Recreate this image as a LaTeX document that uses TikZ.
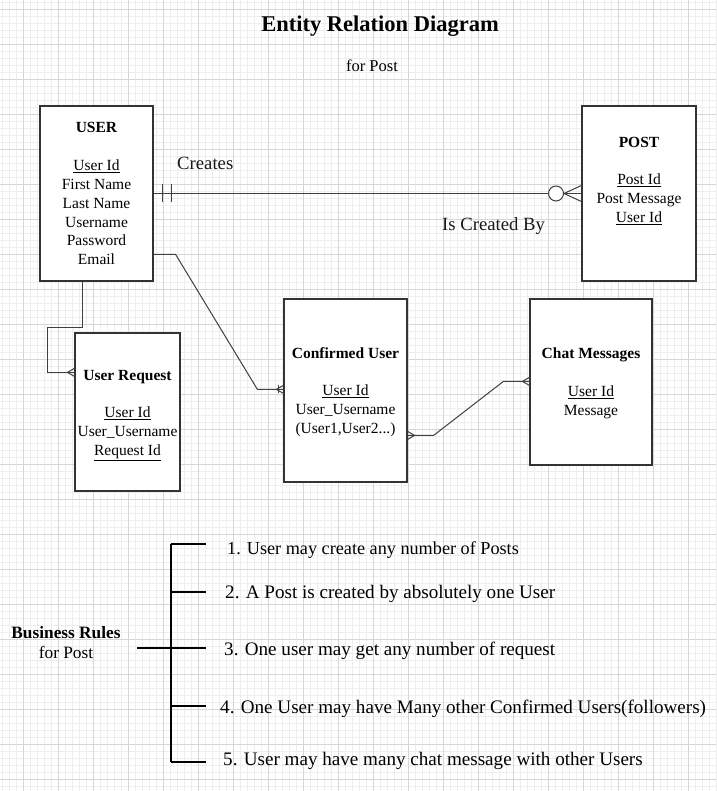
\documentclass[tikz,border=0pt]{standalone}
\usepackage{fontspec}
\setmainfont{Liberation Serif}
\usetikzlibrary{calc}
\definecolor{gminor}{HTML}{EEEEEE}
\definecolor{gmajor}{HTML}{D6D6D6}
\definecolor{boxc}{HTML}{333333}
\definecolor{connc}{HTML}{404040}
\tikzset{
  entity/.style={draw=boxc, line width=1.2pt, fill=white, inner sep=0pt, rectangle},
  etext/.style={align=center, inner sep=0pt, font=\fontsize{15.5}{18.85}\selectfont},
  conn/.style={draw=connc, line width=1pt},
  lbl/.style={inner sep=0pt, font=\fontsize{18.7}{22}\selectfont, text=black!90},
  rtext/.style={inner sep=0pt, font=\fontsize{18.2}{22}\selectfont},
  rtextb/.style={inner sep=0pt, font=\fontsize{19.1}{23}\selectfont},
  rulebar/.style={draw=black, line width=2pt},
}
\begin{document}
\begin{tikzpicture}[x=1pt,y=-1pt]
\useasboundingbox (0,0) rectangle (716,791);
\fill[white] (0,0) rectangle (716,791);
% grid
\foreach \i in {0,...,102} \draw[gminor, line width=0.8pt] ({2+7*\i},0) -- ({2+7*\i},791);
\foreach \j in {0,...,112} \draw[gminor, line width=0.8pt] (0,{2+7*\j}) -- (716,{2+7*\j});
\foreach \i in {0,...,19} \draw[gmajor, line width=0.9pt] ({23+35*\i},0) -- ({23+35*\i},791);
\foreach \j in {0,...,22} \draw[gmajor, line width=0.9pt] (0,{9+35*\j}) -- (716,{9+35*\j});

% titles
\node[anchor=base, inner sep=0pt, font=\bfseries\fontsize{22.5}{27}\selectfont] (title) at (380,32) {Entity Relation Diagram};
\node[anchor=base, inner sep=0pt, font=\fontsize{16.5}{20}\selectfont] (sub) at (372,72) {for Post};

% entities
\node[entity, minimum width=113, minimum height=175] (user) at (96.5,193.5) {};
\node[entity, minimum width=114, minimum height=175] (post) at (639,193.5) {};
\node[entity, minimum width=123, minimum height=183] (cu) at (345.5,390.5) {};
\node[entity, minimum width=105, minimum height=158] (ur) at (127.5,412) {};
\node[entity, minimum width=122, minimum height=166] (chat) at (591,382) {};

\node[etext] (usert) at (96.5,195) {\strut\textbf{USER}\\\mbox{}\\\underline{User Id}\\First Name\\Last Name\\Username\\Password\\Email\strut};
\node[etext] (postt) at (639,181) {\strut\textbf{POST}\\\mbox{}\\\underline{Post Id}\\Post Message\\\underline{User Id}\strut};
\node[etext] (cut) at (345.5,392) {\strut\textbf{Confirmed User}\\\mbox{}\\\underline{User Id}\\User\_Username\\(User1,User2...)\strut};
\node[etext] (urt) at (127.5,414) {\strut\textbf{User Request}\\\mbox{}\\\underline{User Id}\\User\_Username\\\underline{Request Id}\strut};
\node[etext] (chatt) at (591,383.5) {\strut\textbf{Chat Messages}\\\mbox{}\\\underline{User Id}\\Message\strut};

% USER -- POST
\node[circle, draw=connc, line width=1pt, fill=white, minimum size=15, inner sep=0pt] (circ) at (556,193.5) {};
\draw[conn] (user.east) -- (circ.west);
\draw[conn] (circ.east) -- (post.west);
\draw[conn] ($(post.west)+(0,-8)$) -- (circ.east) -- ($(post.west)+(0,8)$);
\draw[conn] ($(user.east)+(9,-9)$) -- ($(user.east)+(9,9)$);
\draw[conn] ($(user.east)+(18,-9)$) -- ($(user.east)+(18,9)$);
\node[lbl, anchor=base west] (creates) at (177,170) {Creates};
\node[lbl, anchor=base west] (iscb) at (442,231) {Is Created By};

% USER -- Confirmed User
\draw[conn] ($(user.north east)+(0,149)$) -- ++(22,0) -- ($(cu.north west)+(-26,91)$) -- ($(cu.north west)+(0,91)$);
\draw[conn] ($(cu.north west)+(0,87)$) -- ($(cu.north west)+(-7,91)$) -- ($(cu.north west)+(0,95)$);
\draw[conn] ($(cu.north west)+(-5,87)$) -- ($(cu.north west)+(-5,95)$);

% USER -- User Request
\draw[conn] ($(user.south west)+(43,0)$) -- ++(0,46) -- ++(-35,0) |- ($(ur.north west)+(0,40)$);
\draw[conn] ($(ur.north west)+(0,36)$) -- ($(ur.north west)+(-7,40)$) -- ($(ur.north west)+(0,44)$);

% Confirmed User -- Chat Messages
\draw[conn] ($(cu.north east)+(0,137)$) -- ++(26,0) -- ($(chat.north west)+(-26,83)$) -- ($(chat.north west)+(0,83)$);
\draw[conn] ($(cu.north east)+(0,133)$) -- ($(cu.north east)+(7,137)$) -- ($(cu.north east)+(0,141)$);
\draw[conn] ($(chat.north west)+(0,79)$) -- ($(chat.north west)+(-7,83)$) -- ($(chat.north west)+(0,87)$);

% Business rules
\node[align=center, inner sep=0pt, font=\fontsize{17.3}{20}\selectfont] (br) at (66,644.5) {\strut\textbf{Business Rules}\\for Post\strut};
\coordinate (brs) at (137,648);
\coordinate (bt) at (171,544);
\coordinate (bb) at (171,762);
\coordinate (e1) at (206,544);
\coordinate (e2) at (206,592);
\coordinate (e3) at (206,648);
\coordinate (e4) at (206,706);
\coordinate (e5) at (206,762);
\draw[rulebar] (brs) -- (e3);
\draw[rulebar] (bt) -- (bb);
\draw[rulebar] (bt) -- (e1);
\draw[rulebar] (bt |- e2) -- (e2);
\draw[rulebar] (bt |- e4) -- (e4);
\draw[rulebar] (bb) -- (e5);
\node[rtext, anchor=base west] (r1) at (227,554) {1. User may create any number of Posts};
\node[rtextb, anchor=base west] (r2) at (225,598) {2. A Post is created by absolutely one User};
\node[rtextb, anchor=base west] (r3) at (224,655) {3. One user may get any number of request};
\node[rtextb, anchor=base west] (r4) at (220,713) {4. One User may have Many other Confirmed Users(followers)};
\node[rtextb, anchor=base west] (r5) at (223,765) {5. User may have many chat message with other Users};
\end{tikzpicture}
\end{document}
